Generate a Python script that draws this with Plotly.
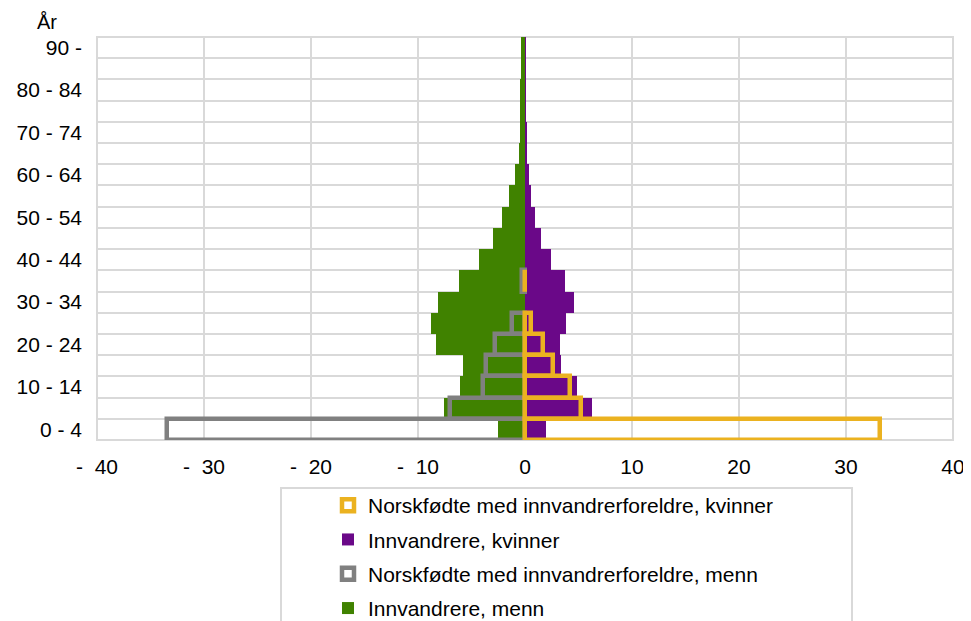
import plotly.graph_objects as go

age_groups = ["0 - 4", "5 - 9", "10 - 14", "15 - 19", "20 - 24", "25 - 29", "30 - 34",
              "35 - 39", "40 - 44", "45 - 49", "50 - 54", "55 - 59", "60 - 64", "65 - 69",
              "70 - 74", "75 - 79", "80 - 84", "85 - 89", "90 -"]

innv_menn = [-2.5, -7.55, -6.05, -5.83, -8.3, -8.79, -8.16, -6.2, -4.27, -3.03,
             -2.15, -1.45, -0.9, -0.6, -0.5, -0.45, -0.43, -0.42, -0.42]
innv_kvinner = [2.0, 6.27, 4.9, 3.4, 3.27, 3.83, 4.6, 3.77, 2.4, 1.5,
                0.97, 0.57, 0.35, 0.15, 0.1, 0.07, 0.05, 0.03, 0.02]
nf_menn = [-33.5, -6.98, -3.9, -3.65, -2.78, -1.22, None, -0.3, None, None,
           None, None, None, None, None, None, None, None, None]
nf_kvinner = [33.2, 5.25, 4.2, 2.6, 1.72, 0.56, None, 0.04, None, None,
              None, None, None, None, None, None, None, None, None]

x_ticks = [-40, -30, -20, -10, 0, 10, 20, 30, 40]
x_ticktext = ["-\u00a0\u00a040", "-\u00a0\u00a030", "-\u00a0\u00a020", "-\u00a0\u00a010",
              "0", "10", "20", "30", "40"]

GREEN = "#408200"
PURPLE = "#6a0888"
GRAY = "#808080"
YELLOW = "#ebb220"
GRID = "#d9d9d9"
FONT = "Liberation Sans, Arial, sans-serif"

ypos = list(range(len(age_groups)))

fig = go.Figure()
fig.add_trace(go.Bar(y=ypos, x=innv_menn, orientation="h", width=1,
                     name="Innvandrere, menn", marker=dict(color=GREEN, line=dict(width=0)),
                     legendrank=4, legendgroup="d"))
fig.add_trace(go.Bar(y=ypos, x=innv_kvinner, orientation="h", width=1,
                     name="Innvandrere, kvinner", marker=dict(color=PURPLE, line=dict(width=0)),
                     legendrank=2, legendgroup="b"))
fig.add_trace(go.Bar(y=ypos, x=nf_menn, orientation="h", width=1,
                     name="Norskfødte med innvandrerforeldre, menn",
                     marker=dict(color="rgba(255,255,255,0)", line=dict(color=GRAY, width=4.5)),
                     legendrank=3, legendgroup="c"))
fig.add_trace(go.Bar(y=ypos, x=nf_kvinner, orientation="h", width=1,
                     name="Norskfødte med innvandrerforeldre, kvinner",
                     marker=dict(color="rgba(255,255,255,0)", line=dict(color=YELLOW, width=4.5)),
                     legendrank=1, legendgroup="a"))

# page offset of the figure (body margin)
OFF = 8
W, H = 971 - OFF, 621 - OFF
L, T = 97 - OFF, 37 - OFF
pw = 953 - 97
ph = 440 - 37
R = W - L - pw
B = H - T - ph


def px_x(p):
    return (p - OFF - L) / pw


def px_y(p):
    return (T + ph - (p - OFF)) / ph


fig.update_layout(
    width=W, height=H,
    margin=dict(l=L, r=R, t=T, b=B, pad=0, autoexpand=False),
    paper_bgcolor="white", plot_bgcolor="white",
    barmode="overlay",
    bargap=0,
    font=dict(family=FONT, size=20, color="#000000"),
    showlegend=True,
    legend=dict(
        x=px_x(328), y=px_y(485), xanchor="left", yanchor="top",
        font=dict(family=FONT, size=21, color="#000000"),
        bgcolor="rgba(0,0,0,0)", borderwidth=0,
        traceorder="grouped", tracegroupgap=4,
    ),
    xaxis=dict(
        range=[-40, 40], tickvals=x_ticks, ticktext=x_ticktext,
        showgrid=True, gridcolor=GRID, gridwidth=2, zeroline=False,
        showline=False, ticks="", ticklabelstandoff=12, automargin=False,
        tickfont=dict(family=FONT, size=21),
        fixedrange=True,
    ),
    yaxis=dict(
        range=[-0.5, 18.5],
        tickvals=ypos[::2], ticktext=age_groups[::2],
        showgrid=False, zeroline=False, showline=False, ticks="",
        ticklabelstandoff=14, automargin=False,
        tickfont=dict(family=FONT, size=21),
        minor=dict(tickvals=[i - 0.5 for i in range(len(age_groups) + 1)],
                   showgrid=True, gridcolor=GRID, gridwidth=2, ticks=""),
        fixedrange=True,
    ),
    shapes=[
        dict(type="rect", xref="paper", yref="paper",
             x0=px_x(281), x1=px_x(852), y0=px_y(488), y1=px_y(660),
             line=dict(color=GRID, width=2), fillcolor="rgba(0,0,0,0)", layer="below"),
        dict(type="rect", xref="paper", yref="paper",
             x0=0, x1=1, y0=0, y1=1,
             line=dict(color=GRID, width=2), fillcolor="rgba(0,0,0,0)", layer="below"),
    ],
    annotations=[
        dict(text="År", x=px_x(47), y=px_y(22), xref="paper", yref="paper",
             showarrow=False, xanchor="center", yanchor="middle",
             font=dict(family=FONT, size=20, color="#000000")),
    ],
)

fig.write_html("out.html")
